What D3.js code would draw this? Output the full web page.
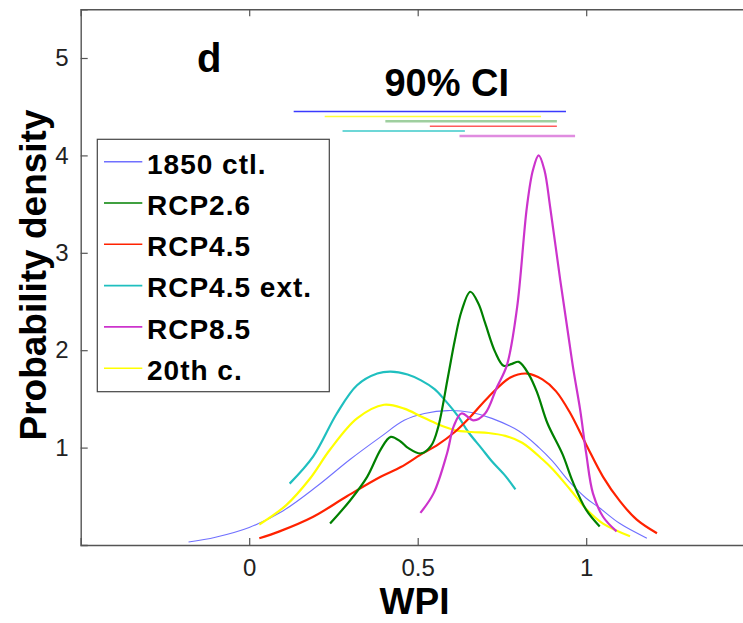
<!DOCTYPE html>
<html>
<head>
<meta charset="utf-8">
<script src="https://cdn.jsdelivr.net/npm/d3@7"></script>
<style>
  body { margin: 0; background: #fff; }
  svg { display: block; font-family: "Liberation Sans", Arial, Helvetica, sans-serif; }
</style>
</head>
<body>
<div id="chart"></div>
<script>
// density curves, [WPI, density]
var ctl1850 = [[-0.18,0.03],[-0.1,0.08],[0,0.18],[0.1,0.35],[0.2,0.6],[0.3,0.88],[0.39,1.11],[0.46,1.28],[0.52,1.35],[0.59,1.38],[0.66,1.36],[0.72,1.3],[0.8,1.17],[0.86,1.0],[0.9,0.86],[0.95,0.65],[1.0,0.48],[1.04,0.38],[1.1,0.22],[1.18,0.07]];
var rcp26 = [[0.24,0.22],[0.3,0.46],[0.35,0.7],[0.39,0.98],[0.42,1.11],[0.45,1.06],[0.47,1.0],[0.51,0.94],[0.54,1.02],[0.56,1.2],[0.59,1.73],[0.61,2.1],[0.63,2.4],[0.656,2.6],[0.68,2.48],[0.7,2.28],[0.73,1.98],[0.755,1.84],[0.78,1.86],[0.8,1.88],[0.83,1.75],[0.855,1.56],[0.885,1.25],[0.93,0.93],[0.96,0.65],[1.0,0.36],[1.04,0.19]];
var rcp45 = [[0.03,0.07],[0.09,0.14],[0.19,0.29],[0.29,0.5],[0.39,0.7],[0.45,0.8],[0.51,0.93],[0.56,1.03],[0.61,1.16],[0.66,1.33],[0.71,1.52],[0.775,1.72],[0.825,1.76],[0.87,1.7],[0.91,1.58],[0.95,1.37],[1.0,1.03],[1.05,0.7],[1.1,0.45],[1.15,0.26],[1.21,0.12]];
var rcp45ext = [[0.12,0.63],[0.19,0.91],[0.26,1.35],[0.32,1.64],[0.38,1.76],[0.42,1.78],[0.47,1.75],[0.51,1.69],[0.55,1.6],[0.58,1.49],[0.62,1.32],[0.65,1.16],[0.69,0.99],[0.72,0.86],[0.76,0.71],[0.79,0.57]];
var rcp85 = [[0.508,0.33],[0.547,0.53],[0.587,0.94],[0.607,1.22],[0.63,1.35],[0.666,1.28],[0.7,1.35],[0.735,1.62],[0.765,1.85],[0.795,2.44],[0.824,3.47],[0.842,3.85],[0.859,4.0],[0.876,3.85],[0.893,3.47],[0.923,2.72],[0.945,2.2],[0.962,1.8],[0.982,1.39],[1.0,0.94],[1.02,0.53],[1.05,0.29],[1.09,0.14]];
var c20th = [[0.03,0.21],[0.11,0.41],[0.18,0.68],[0.24,0.98],[0.32,1.3],[0.4,1.44],[0.46,1.4],[0.51,1.32],[0.56,1.24],[0.61,1.18],[0.66,1.16],[0.71,1.15],[0.76,1.12],[0.81,1.05],[0.87,0.88],[0.9,0.78],[0.95,0.58],[1.0,0.37],[1.05,0.22],[1.13,0.09]];

var names = ['1850 ctl.', 'RCP2.6', 'RCP4.5', 'RCP4.5 ext.', 'RCP8.5', '20th c.'];
var curves = [ctl1850, rcp26, rcp45, rcp45ext, rcp85, c20th];

// 90% confidence intervals [lo, hi], drawn in this order from top down
var ciNames = ['1850 ctl.', '20th c.', 'RCP2.6', 'RCP4.5', 'RCP4.5 ext.', 'RCP8.5'];
var ciLo = [0.132, 0.224, 0.404, 0.536, 0.277, 0.624];
var ciHi = [0.94, 0.866, 0.913, 0.913, 0.64, 0.967];
var ciLevel = [4.45, 4.40, 4.35, 4.30, 4.25, 4.20];

var xTicks = [0, 0.5, 1];
var yTicks = [1, 2, 3, 4, 5];

var colors = {
    '1850 ctl.': '#7070ff',
    'RCP2.6': '#008000',
    'RCP4.5': '#ff2200',
    'RCP4.5 ext.': '#1fbfbf',
    'RCP8.5': '#cc33cc',
    '20th c.': '#ffff00'
};
var ciColors = {
    '1850 ctl.': '#3a3aff',
    'RCP2.6': '#9fcf9f',
    'RCP4.5': '#ff5a5a',
    'RCP4.5 ext.': '#3ccaca',
    'RCP8.5': '#e08ce0',
    '20th c.': '#ffff3a'
};
var widths = { '1850 ctl.': 1.1 };

var W = 743, H = 623;
var margin = { top: 9.3, left: 80.7, bottom: 545 };
var plotRight = 754.7;

var svg = d3.select('#chart').append('svg')
    .attr('width', W)
    .attr('height', H);

var x = d3.scaleLinear().domain([-0.5, 1.5]).range([margin.left, plotRight]);
var y = d3.scaleLinear().domain([0, 5.5]).range([margin.bottom, margin.top]);

// frame + ticks (inward, matlab style)
var axisColor = '#555';
var bottomAxis = d3.axisBottom(x).tickValues(xTicks).tickSize(-7).tickPadding(14).tickFormat(d3.format('~g'));
var topAxis = d3.axisTop(x).tickValues(xTicks).tickSize(-7).tickFormat('');
var leftAxis = d3.axisLeft(y).tickValues(yTicks).tickSize(-7).tickPadding(12).tickFormat(d3.format('d'));

function styleAxis(g) {
    g.select('.domain').attr('stroke', axisColor).attr('stroke-width', 1.4);
    g.selectAll('.tick line').attr('stroke', axisColor).attr('stroke-width', 1.2);
    g.selectAll('.tick text').attr('fill', '#222').style('font-size', '24px').style('font-family', '"Liberation Sans", Arial, sans-serif');
}

svg.append('g').attr('transform', 'translate(0,' + margin.bottom + ')').call(bottomAxis).call(styleAxis);
svg.append('g').attr('transform', 'translate(0,' + margin.top + ')').call(topAxis).call(styleAxis);
svg.append('g').attr('transform', 'translate(' + margin.left + ',0)').call(leftAxis).call(styleAxis);

// density curves
var line = d3.line()
    .x(function(d) { return x(d[0]); })
    .y(function(d) { return y(d[1]); })
    .curve(d3.curveCatmullRom.alpha(0.5));

var drawOrder = [0, 3, 5, 2, 1, 4];
drawOrder.forEach(function(i) {
    svg.append('path')
        .datum(curves[i])
        .attr('fill', 'none')
        .attr('stroke', colors[names[i]])
        .attr('stroke-width', widths[names[i]] || 2.2)
        .attr('stroke-linejoin', 'round')
        .attr('d', line);
});

// 90% CI bars
svg.selectAll('.ci')
    .data(ciNames)
    .enter()
        .append('line')
        .attr('x1', function(d, i) { return x(ciLo[i]); })
        .attr('x2', function(d, i) { return x(ciHi[i]); })
        .attr('y1', function(d, i) { return y(ciLevel[i]); })
        .attr('y2', function(d, i) { return y(ciLevel[i]); })
        .attr('stroke', function(d) { return ciColors[d]; })
        .attr('stroke-width', function(d) { return (d == 'RCP2.6' || d == 'RCP8.5') ? 2.5 : 1.6; });

svg.append('text')
    .attr('x', 446.7)
    .attr('y', 96)
    .attr('text-anchor', 'middle')
    .style('font-size', '38px')
    .style('font-weight', 'bold')
    .text('90% CI');

svg.append('text')
    .attr('x', 197)
    .attr('y', 72)
    .style('font-size', '40px')
    .style('font-weight', 'bold')
    .text('d');

// legend
var leg = svg.append('g');
leg.append('rect')
    .attr('x', 97.3).attr('y', 139.3)
    .attr('width', 232).attr('height', 252.4)
    .attr('fill', '#fff')
    .attr('stroke', '#444')
    .attr('stroke-width', 1.2);

var rowY0 = 161.7, rowStep = 41.3;
names.forEach(function(n, i) {
    var ry = rowY0 + rowStep * i;
    leg.append('line')
        .attr('x1', 104).attr('x2', 142.3)
        .attr('y1', ry).attr('y2', ry)
        .attr('stroke', colors[n])
        .attr('stroke-width', 1.6);
    leg.append('text')
        .attr('x', 147)
        .attr('y', ry + 11.8)
        .style('font-size', '28px')
        .style('font-weight', 'bold')
        .style('letter-spacing', '1px')
        .text(n);
});

// axis titles
svg.append('text')
    .attr('x', 414.5)
    .attr('y', 614)
    .attr('text-anchor', 'middle')
    .style('font-size', '37px')
    .style('font-weight', 'bold')
    .text('WPI');

svg.append('text')
    .attr('transform', 'translate(46,275) rotate(-90)')
    .attr('text-anchor', 'middle')
    .style('font-size', '37px')
    .style('font-weight', 'bold')
    .text('Probability density');
</script>
</body>
</html>
